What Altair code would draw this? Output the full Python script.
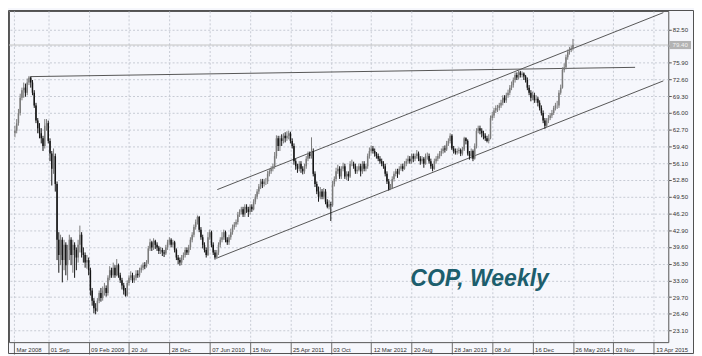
import altair as alt
import pandas as pd

# ---- weekly candles (week index 1..319, week 20 = 01 Sep 2008) ----
first_open = 62.0
closes = [
    62.5, 64, 66, 69, 70.5, 71, 70, 72, 73, 72,
    70, 67.5, 64.5, 63, 62, 61, 59.5, 63.5, 64, 60.5,
    58, 55, 57.5, 52, 41, 38, 41, 37, 40, 36,
    39, 41, 38, 40, 39, 37.5, 40, 42, 38.5, 38,
    36.5, 37, 35, 31, 29, 27.5, 27, 29, 30.5, 29.5,
    31, 31.5, 30.5, 33.5, 35, 34, 35.5, 34, 36, 34,
    33, 32, 31, 30, 32.5, 33.5, 34, 33, 33.5, 34.3,
    34, 35, 35.5, 36, 35.8, 36.5, 39.3, 40.5, 39.5, 40.8,
    40, 39.5, 38.8, 39, 38.5, 38.3, 39.5, 40.5, 41, 40,
    40.5, 39, 37.5, 37, 36.5, 37.5, 38, 39, 38.5, 39.5,
    41, 42, 43.5, 44.5, 45.5, 43, 41.5, 40, 39, 38,
    41.5, 42.5, 40, 38.5, 37.5, 38.5, 40, 41, 41.5, 42.5,
    41, 40.5, 41.5, 42.5, 43.5, 44, 44.5, 46, 46.5, 47,
    46, 47.5, 47, 46.5, 47.5, 47, 48.5, 49.5, 50.5, 51.5,
    52.5, 52, 52.5, 52.5, 54, 54.5, 55, 55.5, 57.5, 61,
    59.5, 61, 60.5, 61.5, 61, 61.5, 62, 60.5, 59.5, 56.5,
    55.5, 55, 56, 55, 54.5, 55.5, 57, 58, 57.5, 58.5,
    54, 52, 50.5, 49.5, 50.5, 49.5, 50.5, 48.5, 47.5, 48,
    47.8, 52, 53, 54.5, 55, 53.5, 55, 55.5, 53.5, 54,
    53.5, 56, 56, 55.5, 54.5, 54.8, 55.5, 54.5, 56, 55,
    55.5, 57.5, 58.5, 59, 58.5, 58, 57.5, 57, 56.5, 56,
    55.5, 54, 52.5, 51, 51.2, 53, 54, 54.5, 54, 55,
    55.5, 55, 56, 56.5, 57, 56.5, 57.5, 57, 57.5, 58,
    57, 56.5, 57, 56, 57.5, 57.5, 56.5, 55.5, 55, 56.5,
    57, 57.5, 58, 58.5, 59, 58.8, 60, 60.5, 61.5, 59,
    58.5, 58.2, 58.5, 58.7, 58, 58.8, 61, 60.5, 58, 57.5,
    58.5, 57, 59.5, 62.5, 63, 62.5, 62, 61.5, 61, 60.5,
    61, 65, 65.5, 66.5, 67, 67, 67.5, 68, 69, 68.5,
    69.5, 70, 71, 71.5, 72.5, 73.5, 73, 74, 73.5, 73.8,
    73.2, 72.5, 71, 70, 69, 69.5, 68.5, 68.8, 68, 67,
    66, 64.5, 63.5, 64.5, 65, 65.5, 66, 67, 67.5, 67.5,
    70, 71, 74.5, 75, 77, 78, 78.5, 78.8, 79.4,
]
lows = [
    61.2, 62, 63.5, 65.5, 68.5, 69, 69.2, 69.5, 71.5, 71,
    69.5, 67, 64, 62, 61, 60, 58.5, 59, 62.5, 60,
    56.5, 51.7, 54, 50.5, 37, 34.5, 36, 32.6, 35, 34,
    33, 37, 36, 34.5, 33.5, 35, 36.5, 38.5, 37.5, 36.5,
    35.5, 35.3, 34, 30, 28, 26.5, 26.3, 26.8, 28.5, 28.8,
    29, 30, 29.8, 30, 33, 33.5, 33.5, 33.5, 33.8, 33.5,
    32.5, 31.2, 30.2, 29.8, 29.8, 32, 33, 32.5, 32.5, 33,
    33.5, 33.6, 34.5, 35, 35.2, 35.5, 36.2, 38.8, 38.8, 39,
    39.2, 38.8, 38.2, 38.2, 37.8, 37.6, 38, 39, 40, 39.5,
    39.5, 38.5, 37, 36.2, 35.9, 36, 37, 37.5, 38, 38,
    39, 40.5, 41.5, 43, 44, 42.5, 41, 39.3, 38.5, 37.5,
    37.8, 41, 39.5, 38, 37.1, 37.2, 38, 39.5, 40.5, 41,
    40.5, 40, 40, 41, 42, 43, 43.5, 44, 45.5, 46,
    45.5, 45.5, 46.3, 45.5, 46, 46.5, 46.8, 48, 49, 50,
    51, 51.2, 51.5, 51.8, 52, 53.5, 54, 54.5, 55, 57,
    58.5, 58.5, 59.5, 60, 60.2, 60.5, 60.8, 60, 59, 55.8,
    54.8, 54.2, 54.5, 54.2, 53.9, 54, 55, 56.5, 57, 57,
    53.5, 51.4, 50, 48.5, 49, 49, 49, 48, 47.2, 47,
    44.7, 47.5, 51.5, 52.5, 54, 53, 53, 54.5, 53, 52.8,
    52.6, 53.2, 55.5, 55, 54, 54, 54.5, 53.5, 54, 54.5,
    54.5, 55, 57, 58, 58, 57.4, 57, 56.5, 56, 55.5,
    55, 53.5, 52, 50.7, 50.8, 51, 52.5, 53.5, 53.2, 53.8,
    54.6, 54.5, 54.8, 55.5, 56, 56, 56, 56.3, 56.5, 57,
    56.5, 55.8, 56, 55.2, 55.8, 56.8, 56, 55, 54.5, 54.8,
    56, 56.5, 57, 57.5, 58, 58.2, 58.5, 59.5, 60, 58.7,
    58, 57.8, 57.8, 58, 57.5, 57.6, 58.5, 59.8, 57.6, 56.8,
    57, 56.5, 56.8, 59, 62, 61.8, 61.2, 60.8, 60.5, 60.2,
    60, 60.8, 64.5, 65, 66, 66.2, 66.5, 67, 67.5, 68,
    68, 69, 69.5, 70.5, 71, 72, 72.5, 72.6, 73, 73,
    72.5, 72, 70.5, 69.5, 68.3, 68.5, 68, 68, 67.3, 66.5,
    65.5, 64, 62.9, 63.2, 64, 64.6, 65, 65.6, 66.5, 66.8,
    67, 69.6, 70.8, 74, 74.6, 76.5, 77.5, 78, 78.3,
]
highs = [
    63.5, 64.8, 66.8, 69.8, 71, 72, 71.8, 72.8, 73.3, 73.2,
    72.5, 70.5, 68, 65, 64, 63, 61.5, 64.8, 64.8, 64.5,
    61, 58.5, 59, 58, 52.5, 42.5, 42, 41.5, 41, 40.5,
    40, 42, 41.5, 41, 40.5, 39.5, 41, 43.8, 42.5, 39.5,
    38.5, 38, 37.5, 35.5, 31.5, 29.5, 28.5, 29.5, 31, 31.5,
    31.8, 32.5, 32, 34, 35.8, 35.5, 36.5, 36, 37.2, 36.3,
    34.5, 33.5, 32.5, 31.5, 33, 34, 34.8, 34.5, 34, 35,
    35, 35.5, 36, 36.5, 36.6, 37, 39.8, 41.2, 40.8, 41.3,
    41, 40.5, 39.8, 39.6, 39.4, 39, 40, 41, 41.5, 41.3,
    41, 40.8, 39.3, 38, 37.5, 38, 38.5, 39.5, 39.5, 40,
    41.5, 42.5, 44, 45, 45.8, 45.7, 43.5, 42, 40.5, 39.5,
    42.5, 43, 42.8, 40.5, 39, 39, 40.5, 41.5, 42.5, 43,
    42.8, 41.5, 42, 43.2, 44, 44.5, 45, 46.5, 47, 47.5,
    47.5, 48, 48, 47.5, 48, 48, 49, 50, 51, 52,
    53, 53, 53, 53.2, 54.6, 55, 55.5, 56, 58.3, 61.6,
    61.5, 61.5, 61.8, 62, 62.2, 62.4, 62.5, 62.3, 61, 60,
    57, 56, 56.5, 56.5, 55.5, 56, 57.5, 58.4, 58.4, 61.2,
    59, 54.5, 52.5, 51.5, 51.4, 51, 51.2, 51, 49, 48.8,
    48.5, 52.6, 53.5, 55.2, 55.8, 55.5, 55.5, 56.2, 56, 54.5,
    54.5, 56.5, 56.8, 56.4, 56, 55.5, 56, 56, 56.5, 56.5,
    56, 58, 59.2, 59.6, 59.5, 59, 58.3, 58, 57.5, 57,
    56.5, 56, 54.5, 53, 52, 53.5, 54.5, 55, 55, 55.5,
    56, 56, 56.5, 57, 57.6, 57.5, 58, 58, 58, 58.7,
    58.4, 57.5, 57.5, 57.3, 58, 58.2, 58, 57, 56, 57,
    57.5, 58, 58.5, 59, 59.5, 59.6, 60.5, 61, 62, 61.8,
    59.5, 59, 59, 59.2, 59, 59.3, 61.3, 61.2, 60.8, 58.5,
    59, 58.8, 60, 63, 63.5, 63.5, 63, 62.5, 62, 61.5,
    61.8, 65.5, 66.2, 67, 67.5, 67.6, 68, 68.6, 69.5, 69.5,
    70, 70.6, 71.5, 72.2, 73, 74, 74, 74.4, 74.3, 74.2,
    74, 73.5, 73, 71.5, 70.5, 70.2, 70, 69.5, 69.2, 68.5,
    67.5, 66.5, 65, 65, 65.6, 66, 66.6, 67.4, 68, 68.4,
    70.5, 71.6, 75, 75.8, 77.5, 78.5, 79, 79.3, 80.6,
]

# ---- axis ticks ----
y_ticks = [23.10, 26.40, 29.70, 33.00, 36.30, 39.60, 42.90, 46.20, 49.50, 52.80,
           56.10, 59.40, 62.70, 66.00, 69.30, 72.60, 75.90, 79.20, 82.50]
x_tick_weeks = [0.5, 20, 43, 66, 89, 112, 135, 158, 181, 204, 227, 250, 273, 296, 319, 342, 365]
x_tick_labels = ["Mar 2008", "01 Sep", "09 Feb 2009", "20 Jul", "28 Dec", "07 Jun 2010",
                 "15 Nov", "25 Apr 2011", "03 Oct", "12 Mar 2012", "20 Aug", "28 Jan 2013",
                 "08 Jul", "16 Dec", "26 May 2014", "03 Nov", "13 Apr 2015"]

# ---- drawn trend lines (week, price) ----
line_ids = ["flat", "flat", "upper", "upper", "lower", "lower"]
line_weeks = [9.9, 354.4, 116.3, 370.5, 116.3, 370.5]
line_prices = [73.17, 75.0, 50.89, 85.79, 37.43, 72.33]

last_price = closes[-1]

n = len(closes)
assert len(highs) == n and len(lows) == n
opens = [first_open] + closes[:-1]
df = pd.DataFrame({
    "week": list(range(1, n + 1)),
    "open": opens, "close": closes, "high": highs, "low": lows,
})
df["dir"] = ["up" if c >= o else "down" for o, c in zip(opens, closes)]

lines_df = pd.DataFrame({"id": line_ids, "week": line_weeks, "price": line_prices})
price_df = pd.DataFrame({"p": [last_price], "label": [f"{last_price:.2f}"]})
one = pd.DataFrame({"a": [0]})

W, H = 667, 335
FONT = "'Liberation Sans', Arial, sans-serif"
BG = "#f6f7fc"

x_scale = alt.Scale(domain=[0.43, 370.5], nice=False, zero=False)
y_scale = alt.Scale(domain=[20.82, 86.11], nice=False, zero=False)

label_js = "[" + ",".join(f"'{s}'" for s in x_tick_labels) + "]"
vals_js = "[" + ",".join(str(v) for v in x_tick_weeks) + "]"
x_axis = alt.Axis(
    values=x_tick_weeks, title=None, orient="bottom",
    labelExpr=f"{label_js}[indexof({vals_js}, datum.value)]",
    grid=True, gridColor="#c6cad3", gridDash=[2, 2], gridWidth=1,
    domain=False, ticks=True, tickSize=12, tickColor="#6a6a6a", tickWidth=1,
    labelAlign="left", labelBaseline="top", labelOffset=2, labelPadding=-8,
    labelFont=FONT, labelFontSize=6, labelColor="#333333", labelOverlap=False,
    labelBound=False, labelFlush=False,
)
y_axis = alt.Axis(
    values=y_ticks, title=None, orient="right", format=".2f",
    grid=True, gridColor="#c6cad3", gridDash=[2, 2], gridWidth=1,
    domain=False, ticks=True, tickSize=3, tickColor="#555555",
    labelPadding=1, labelFont=FONT, labelFontSize=6.2, labelColor="#333333",
    labelOverlap=False, labelBaseline="middle",
)

color = alt.Color("dir:N", scale=alt.Scale(domain=["up", "down"], range=["#7a7a7a", "#151515"]), legend=None)

wicks = alt.Chart(df).mark_rule(strokeWidth=1).encode(
    x=alt.X("week:Q", scale=x_scale, axis=x_axis),
    y=alt.Y("low:Q", scale=y_scale, axis=y_axis),
    y2="high:Q",
    color=color,
)
bodies = alt.Chart(df).mark_bar(size=1.5).encode(
    x=alt.X("week:Q", scale=x_scale, axis=x_axis),
    y=alt.Y("open:Q", scale=y_scale, axis=y_axis),
    y2="close:Q",
    color=color,
)
price_line = alt.Chart(price_df).mark_rule(color="#c4c4c4", strokeWidth=1).encode(
    y=alt.Y("p:Q", scale=y_scale, axis=y_axis),
)
trend = alt.Chart(lines_df).mark_line(color="#555555", strokeWidth=1, clip=True).encode(
    x=alt.X("week:Q", scale=x_scale, axis=x_axis),
    y=alt.Y("price:Q", scale=y_scale, axis=y_axis),
    detail="id:N",
)
price_box = alt.Chart(price_df).transform_calculate(
    lo="datum.p - 0.8", hi="datum.p + 0.8"
).mark_rect(color="#b3b3b3").encode(
    x=alt.value(W + 1), x2=alt.value(W + 23),
    y=alt.Y("lo:Q", scale=y_scale, axis=y_axis), y2="hi:Q",
)
price_text = alt.Chart(price_df).mark_text(
    font=FONT, fontSize=6.2, color="#f2f2f2", align="center", baseline="middle"
).encode(
    x=alt.value(W + 12),
    y=alt.Y("p:Q", scale=y_scale, axis=y_axis),
    text="label:N",
)
title_text = alt.Chart(one).mark_text(
    text="COP, Weekly", font="Liberation Sans", fontSize=23.3, fontWeight="bold",
    fontStyle="italic", color="#1d5e6d", align="left", baseline="alphabetic",
).encode(x=alt.value(406), y=alt.value(278))
frame = alt.Chart(one).mark_rect(filled=False, stroke="#505050", strokeWidth=1).encode(
    x=alt.value(-0.5), x2=alt.value(W + 25.5), y=alt.value(-0.5), y2=alt.value(H + 11.5),
)

chart = alt.layer(
    price_line, trend, wicks, bodies, price_box, price_text, title_text, frame
).properties(
    width=W, height=H,
    padding={"left": 1, "top": 1, "right": 26, "bottom": 12},
    autosize=alt.AutoSizeParams(type="none"),
    background=BG,
).configure_view(
    stroke="#555555", strokeWidth=1, fill=BG,
)

chart.save("out.html", embed_options={"renderer": "svg", "actions": False})
